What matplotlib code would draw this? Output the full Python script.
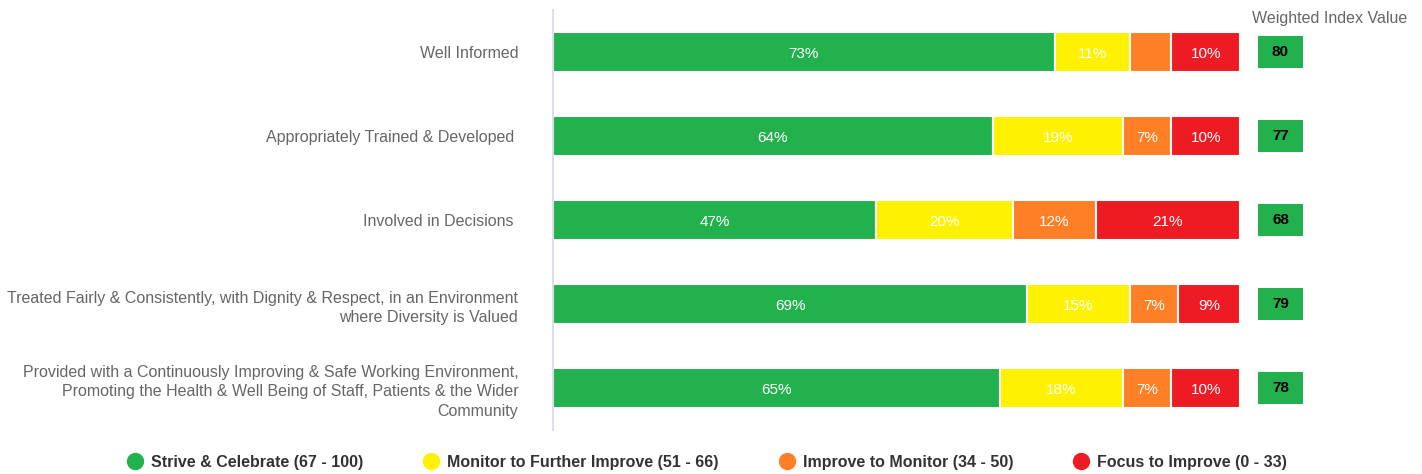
import matplotlib
matplotlib.use("Agg")
import matplotlib.pyplot as plt
from matplotlib.lines import Line2D
from matplotlib.patches import Rectangle
import matplotlib.transforms as mtransforms

plt.rcParams['font.family'] = ['Liberation Sans', 'DejaVu Sans']

categories = [
    "Well Informed",
    "Appropriately Trained & Developed ",
    "Involved in Decisions ",
    "Treated Fairly & Consistently, with Dignity & Respect, in an Environment\nwhere Diversity is Valued",
    "Provided with a Continuously Improving & Safe Working Environment,\nPromoting the Health & Well Being of Staff, Patients & the Wider\nCommunity",
]
strive = [73, 64, 47, 69, 65]
monitor = [11, 19, 20, 15, 18]
improve = [6, 7, 12, 7, 7]
focus = [10, 10, 21, 9, 10]
index_values = [80, 77, 68, 79, 78]

series_names = [
    "Strive & Celebrate (67 - 100)",
    "Monitor to Further Improve (51 - 66)",
    "Improve to Monitor (34 - 50)",
    "Focus to Improve (0 - 33)",
]
series = [strive, monitor, improve, focus]
colors = ["#23B14D", "#FFF200", "#FF7F27", "#ED1C24"]

W, H = 1422, 474
fig = plt.figure(figsize=(W / 100, H / 100), dpi=100)
ax = fig.add_axes([553 / W, 1 - 430 / H, 687 / W, 420 / H])

ypos = list(range(len(categories)))
left = [0] * len(categories)
for vals, col in zip(series, colors):
    ax.barh(ypos, vals, left=left, height=0.47, color=col,
            edgecolor="white", linewidth=1.5)
    for y, v, l in zip(ypos, vals, left):
        if v >= 7:
            ax.text(l + v / 2, y + 0.02, f"{v}%", ha="center", va="center",
                    color="white", fontsize=11)
    left = [a + b for a, b in zip(left, vals)]

ax.set_xlim(0, 100)
ax.set_ylim(len(categories) - 0.5, -0.5)
ax.set_yticks(ypos)
ax.set_yticklabels(categories, fontsize=11.5, color="#666666", linespacing=1.4)
ax.tick_params(axis="y", length=0, pad=25)
ax.set_xticks([])
for s in ["top", "right", "bottom"]:
    ax.spines[s].set_visible(False)
ax.spines["left"].set_color("#D4D9E8")
ax.spines["left"].set_linewidth(1.2)

# weighted index boxes to the right of the bars
trans = mtransforms.blended_transform_factory(ax.transAxes, ax.transData)
bx0 = (1258 - 553) / 687
bw = 45 / 687
bh = 0.39
for y, v in zip(ypos, index_values):
    ax.add_patch(Rectangle((bx0, y - bh / 2), bw, bh, transform=trans,
                           facecolor="#23B14D", edgecolor="none", clip_on=False))
    ax.text(bx0 + bw / 2, y, str(v), transform=trans, ha="center", va="center",
            fontsize=11, fontweight="bold", color="black")
fig.text(1330 / W, 1 - 18 / H, "Weighted Index Value", ha="center", va="center",
         fontsize=11.5, color="#666666")

handles = [Line2D([0], [0], marker="o", linestyle="none", markersize=11.5,
                  markerfacecolor=c, markeredgecolor=c) for c in colors]
leg = fig.legend(handles, series_names, loc="center", ncol=4,
                 bbox_to_anchor=(707 / W, 1 - 462 / H),
                 frameon=False, handlelength=1.0, handletextpad=0.5,
                 columnspacing=3.75,
                 prop={"weight": "bold", "size": 11.5})
for t in leg.get_texts():
    t.set_color("#333333")

fig.savefig("out.png", dpi=100)
